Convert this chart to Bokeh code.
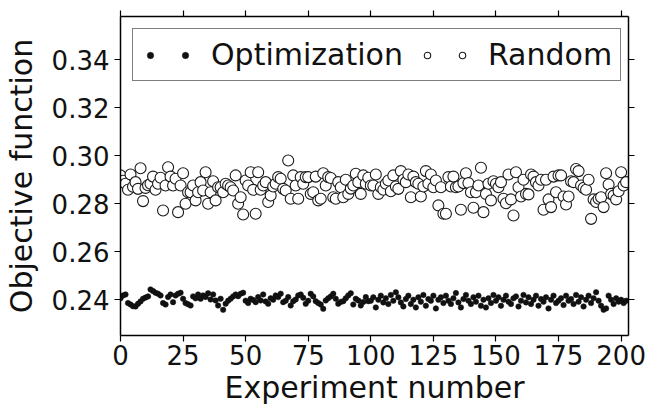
from bokeh.plotting import figure
from bokeh.models import (Range1d, LinearAxis, FixedTicker, Legend, LegendItem,
                          PrintfTickFormatter, ColumnDataSource, CustomJSTickFormatter)
from bokeh.embed import file_html
from bokeh.resources import INLINE

# ---------------- data ----------------
random_vals = [
    0.2917, 0.2895, 0.2882, 0.2857, 0.2921, 0.2870, 0.2889, 0.2861, 0.2947, 0.2810,
    0.2865, 0.2876, 0.2882, 0.2912, 0.2857, 0.2882, 0.2907, 0.2771, 0.2875, 0.2951,
    0.2912, 0.2875, 0.2903, 0.2764, 0.2875, 0.2926, 0.2799, 0.2847, 0.2847, 0.2875,
    0.2813, 0.2847, 0.2889, 0.2854, 0.2930, 0.2799, 0.2847, 0.2893, 0.2813, 0.2868,
    0.2868, 0.2847, 0.2882, 0.2875, 0.2868, 0.2854, 0.2917, 0.2799, 0.2826, 0.2754,
    0.2896, 0.2875, 0.2930, 0.2857, 0.2757, 0.2930, 0.2857, 0.2875, 0.2889, 0.2806,
    0.2833, 0.2871, 0.2882, 0.2910, 0.2903, 0.2861, 0.2854, 0.2979, 0.2820, 0.2917,
    0.2875, 0.2820, 0.2910, 0.2882, 0.2910, 0.2910, 0.2840, 0.2847, 0.2912, 0.2813,
    0.2820, 0.2926, 0.2875, 0.2910, 0.2906, 0.2826, 0.2820, 0.2889, 0.2868, 0.2826,
    0.2899, 0.2840, 0.2862, 0.2875, 0.2924, 0.2889, 0.2840, 0.2917, 0.2882, 0.2907,
    0.2875, 0.2875, 0.2921, 0.2840, 0.2868, 0.2857, 0.2882, 0.2896, 0.2851, 0.2917,
    0.2871, 0.2861, 0.2935, 0.2899, 0.2889, 0.2921, 0.2826, 0.2912, 0.2889, 0.2882,
    0.2829, 0.2871, 0.2935, 0.2882, 0.2921, 0.2868, 0.2896, 0.2792, 0.2868, 0.2757,
    0.2757, 0.2910, 0.2871, 0.2912, 0.2868, 0.2871, 0.2774, 0.2885, 0.2926, 0.2885,
    0.2847, 0.2782, 0.2847, 0.2875, 0.2949, 0.2764, 0.2840, 0.2882, 0.2813, 0.2893,
    0.2882, 0.2868, 0.2889, 0.2820, 0.2801, 0.2921, 0.2817, 0.2750, 0.2930, 0.2868,
    0.2829, 0.2899, 0.2840, 0.2838, 0.2921, 0.2912, 0.2889, 0.2875, 0.2899, 0.2774,
    0.2899, 0.2817, 0.2785, 0.2912, 0.2847, 0.2917, 0.2917, 0.2829, 0.2796, 0.2829,
    0.2893, 0.2889, 0.2944, 0.2935, 0.2875, 0.2865, 0.2857, 0.2899, 0.2736, 0.2817,
    0.2806, 0.2820, 0.2826, 0.2785, 0.2926, 0.2879, 0.2840, 0.2833, 0.2817, 0.2851,
    0.2930, 0.2875, 0.2889,
]

optimization_vals = [
    0.2405, 0.2417, 0.2421, 0.2385, 0.2379, 0.2372, 0.2371, 0.2382, 0.2392, 0.2403,
    0.2408, 0.2413, 0.2442, 0.2435, 0.2428, 0.2424, 0.2417, 0.2385, 0.2379, 0.2410,
    0.2421, 0.2389, 0.2417, 0.2424, 0.2428, 0.2403, 0.2385, 0.2380, 0.2375, 0.2413,
    0.2405, 0.2421, 0.2403, 0.2417, 0.2410, 0.2426, 0.2400, 0.2421, 0.2396, 0.2375,
    0.2403, 0.2357, 0.2382, 0.2395, 0.2403, 0.2413, 0.2421, 0.2414, 0.2424, 0.2428,
    0.2395, 0.2385, 0.2403, 0.2398, 0.2389, 0.2410, 0.2396, 0.2421, 0.2392, 0.2382,
    0.2405, 0.2399, 0.2417, 0.2410, 0.2424, 0.2389, 0.2395, 0.2410, 0.2375, 0.2393,
    0.2400, 0.2417, 0.2421, 0.2407, 0.2382, 0.2395, 0.2424, 0.2413, 0.2393, 0.2385,
    0.2379, 0.2361, 0.2396, 0.2405, 0.2413, 0.2424, 0.2403, 0.2382, 0.2390, 0.2393,
    0.2405, 0.2417, 0.2426, 0.2379, 0.2403, 0.2396, 0.2375, 0.2390, 0.2410, 0.2393,
    0.2395, 0.2409, 0.2367, 0.2399, 0.2416, 0.2388, 0.2405, 0.2381, 0.2419, 0.2395,
    0.2430, 0.2409, 0.2388, 0.2371, 0.2402, 0.2416, 0.2381, 0.2399, 0.2367, 0.2409,
    0.2391, 0.2419, 0.2374, 0.2402, 0.2395, 0.2416, 0.2363, 0.2399, 0.2409, 0.2385,
    0.2416, 0.2395, 0.2381, 0.2405, 0.2427, 0.2388, 0.2367, 0.2402, 0.2419, 0.2395,
    0.2381, 0.2409, 0.2391, 0.2416, 0.2374, 0.2399, 0.2367, 0.2405, 0.2385, 0.2419,
    0.2395, 0.2409, 0.2374, 0.2399, 0.2416, 0.2391, 0.2381, 0.2405, 0.2413, 0.2371,
    0.2395, 0.2419, 0.2388, 0.2409, 0.2381, 0.2399, 0.2416, 0.2374, 0.2402, 0.2391,
    0.2409, 0.2363, 0.2399, 0.2416, 0.2385, 0.2395, 0.2405, 0.2377, 0.2416, 0.2395,
    0.2402, 0.2381, 0.2419, 0.2391, 0.2409, 0.2371, 0.2399, 0.2416, 0.2385, 0.2405,
    0.2430, 0.2395, 0.2374, 0.2357, 0.2363, 0.2416, 0.2399, 0.2381, 0.2405, 0.2391,
    0.2399, 0.2385, 0.2395,
]

experiments = list(range(len(random_vals)))
x_ticks = [0, 25, 50, 75, 100, 125, 150, 175, 200]
y_ticks = [0.24, 0.26, 0.28, 0.30, 0.32, 0.34]
x_label = "Experiment number"
y_label = "Objective function"
series_names = ["Optimization", "Random"]

FONT = "DejaVu Sans"

# ---------------- figure ----------------
p = figure(width=649, height=412, output_backend="svg", toolbar_location=None,
           x_range=Range1d(0, 202.95), y_range=Range1d(0.225, 0.35792),
           min_border_left=119, min_border_right=21,
           min_border_top=16, min_border_bottom=77,
           x_axis_label=x_label, y_axis_label=y_label)
p.background_fill_color = "white"
p.border_fill_color = "white"
p.outline_line_color = None
p.xgrid.visible = False
p.ygrid.visible = False

src_opt = ColumnDataSource(dict(x=experiments, y=optimization_vals))
src_rand = ColumnDataSource(dict(x=experiments, y=random_vals))

r_rand = p.scatter("x", "y", source=src_rand, size=11, marker="circle",
                   fill_color="white", line_color="#1a1a1a", line_width=1.1)
r_opt = p.scatter("x", "y", source=src_opt, size=5.5, marker="circle",
                  fill_color="#111111", line_color="#111111", line_width=0.5)


def style_axis(ax, labels=True):
    ax.axis_line_color = "black"
    ax.axis_line_width = 1.5
    ax.major_tick_line_color = "black"
    ax.major_tick_line_width = 1.2
    ax.major_tick_out = 6
    ax.major_tick_in = 0
    ax.minor_tick_line_color = None
    if labels:
        ax.major_label_text_font = FONT
        ax.major_label_text_font_size = "26px"
        ax.major_label_text_color = "#111111"
        ax.axis_label_text_font = FONT
        ax.axis_label_text_font_size = "30px"
        ax.axis_label_text_font_style = "normal"
        ax.axis_label_text_color = "#111111"
    else:
        ax.formatter = CustomJSTickFormatter(code="return ''")
        ax.major_label_text_font_size = "1px"
        ax.major_label_standoff = 0


xa = p.xaxis[0]
ya = p.yaxis[0]
xa.ticker = FixedTicker(ticks=x_ticks)
ya.ticker = FixedTicker(ticks=y_ticks)
ya.formatter = PrintfTickFormatter(format="%.2f")
style_axis(xa)
style_axis(ya)
xa.major_label_standoff = 3
xa.axis_label_standoff = 2
ya.major_label_standoff = 5
ya.axis_label_standoff = 10

top_ax = LinearAxis(ticker=FixedTicker(ticks=x_ticks))
right_ax = LinearAxis(ticker=FixedTicker(ticks=y_ticks))
style_axis(top_ax, labels=False)
style_axis(right_ax, labels=False)
p.add_layout(top_ax, "above")
p.add_layout(right_ax, "right")

legend = Legend(items=[
    LegendItem(label="", renderers=[r_opt]),
    LegendItem(label=series_names[0] + "\u2002", renderers=[r_opt]),
    LegendItem(label="", renderers=[r_rand]),
    LegendItem(label=series_names[1], renderers=[r_rand]),
], orientation="horizontal", location="top_left")
legend.margin = 12
legend.padding = 8
legend.spacing = -1
legend.glyph_width = 18
legend.glyph_height = 16
legend.label_width = 0
legend.label_standoff = 17
legend.label_text_font = FONT
legend.label_text_font_size = "30px"
legend.label_text_color = "#111111"
legend.border_line_color = "black"
legend.border_line_width = 1.5
legend.background_fill_color = "white"
legend.background_fill_alpha = 1.0
p.add_layout(legend)

open("out.html", "w").write(file_html(p, INLINE))
